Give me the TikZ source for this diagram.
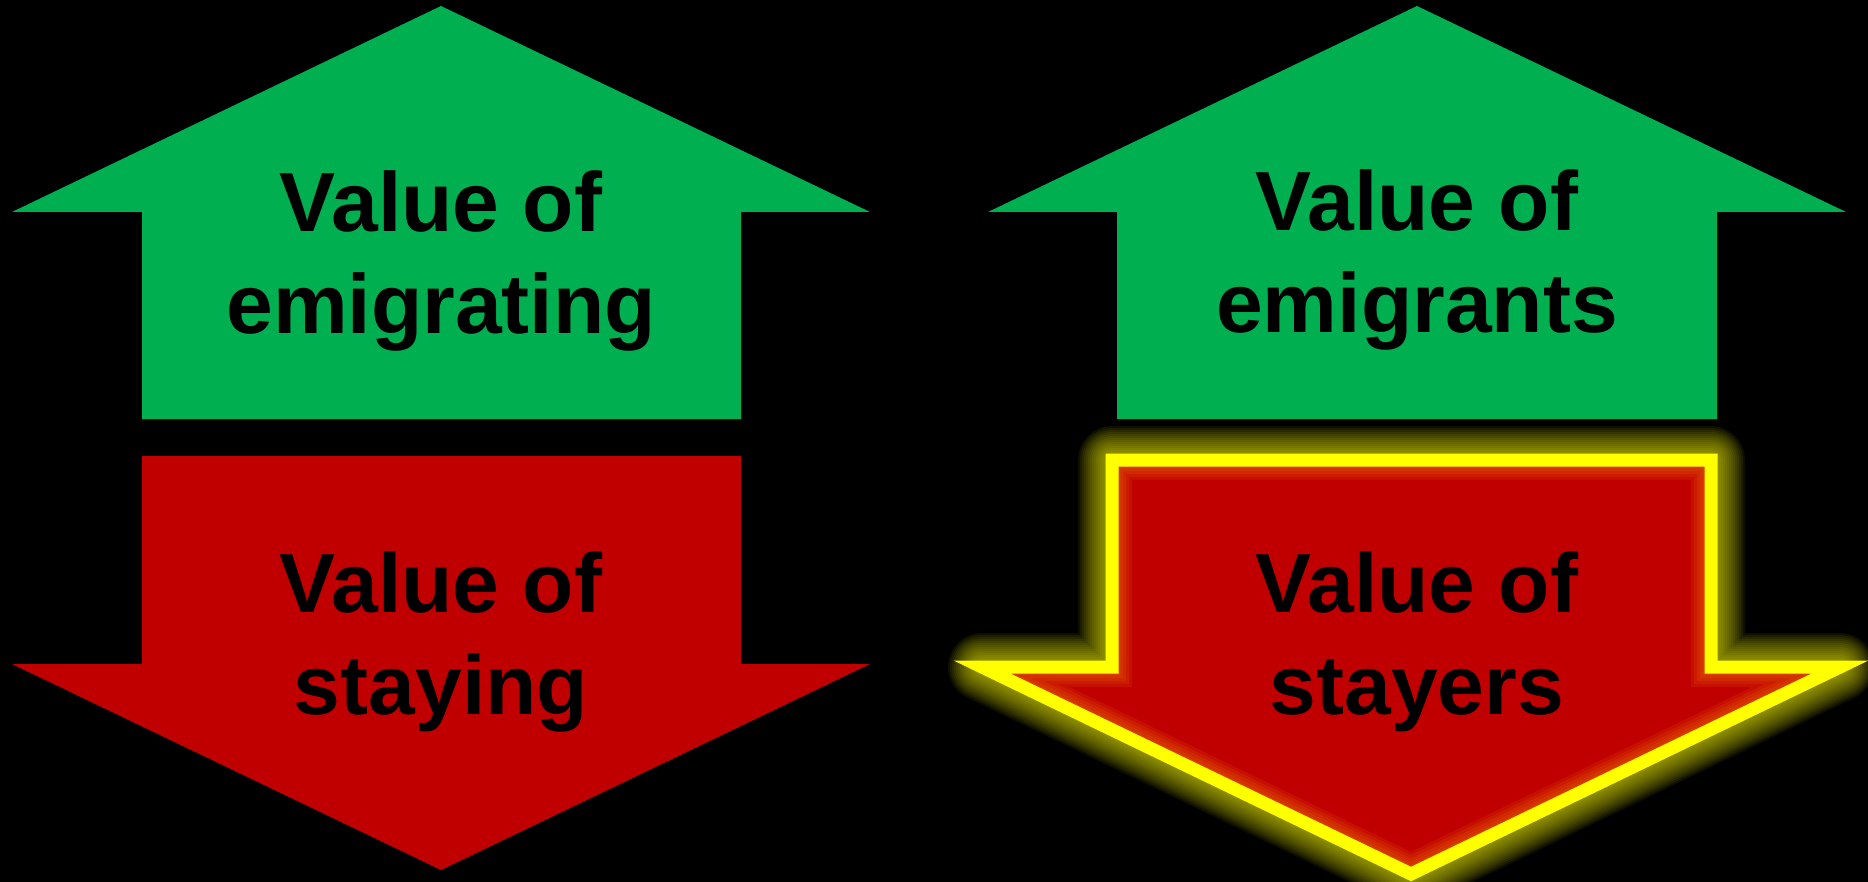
\documentclass[tikz,border=0pt]{standalone}
\usepackage{fontspec}
\setmainfont{Liberation Sans}
\definecolor{upgreen}{RGB}{0,176,80}
\definecolor{downred}{RGB}{192,0,0}
\definecolor{glowyellow}{RGB}{255,255,0}
\definecolor{innerglow}{RGB}{255,150,0}
\def\stayerspath{(1112,460) -- (1711,460) -- (1711,667) -- (1840,667) -- (1411,874) -- (982,667) -- (1112,667) -- cycle}

\begin{document}
\begin{tikzpicture}[x=0.5pt,y=-0.5pt,
    valtext/.style={font=\bfseries\fontsize{42}{51}\selectfont,align=center,inner sep=0pt,text=black}]
  \fill[black] (0,0) rectangle (1868,882);
  \useasboundingbox (0,0) rectangle (1868,882);
  % left pair
  \fill[upgreen] (441,6) -- (870,212) -- (741,212) -- (741,419) -- (142,419) -- (142,212) -- (12,212) -- cycle;
  \fill[downred] (142,456) -- (741,456) -- (741,664) -- (870,664) -- (441,870) -- (12,664) -- (142,664) -- cycle;
  \node[valtext] (emig) at (441,261) {Value of\\emigrating};
  \node[valtext] (stay) at (441,642) {Value of\\staying};
  % right pair
  \fill[upgreen] (1417,6) -- (1846,212) -- (1717,212) -- (1717,419) -- (1117,419) -- (1117,212) -- (988,212) -- cycle;
  \foreach \w in {68,64,...,16}
    \draw[glowyellow,opacity=0.06,line width=\w*0.5pt,line join=round] \stayerspath;
  \fill[downred] \stayerspath;
  \begin{scope}
    \clip \stayerspath;
    \foreach \w in {40,34,...,16}
      \draw[innerglow,opacity=0.1,line width=\w*0.5pt] \stayerspath;
  \end{scope}
  \draw[glowyellow,line width=6.5pt] \stayerspath;
  \node[valtext] (emigr) at (1417,260) {Value of\\emigrants};
  \node[valtext] (stayr) at (1417,642) {Value of\\stayers};
\end{tikzpicture}
\end{document}
